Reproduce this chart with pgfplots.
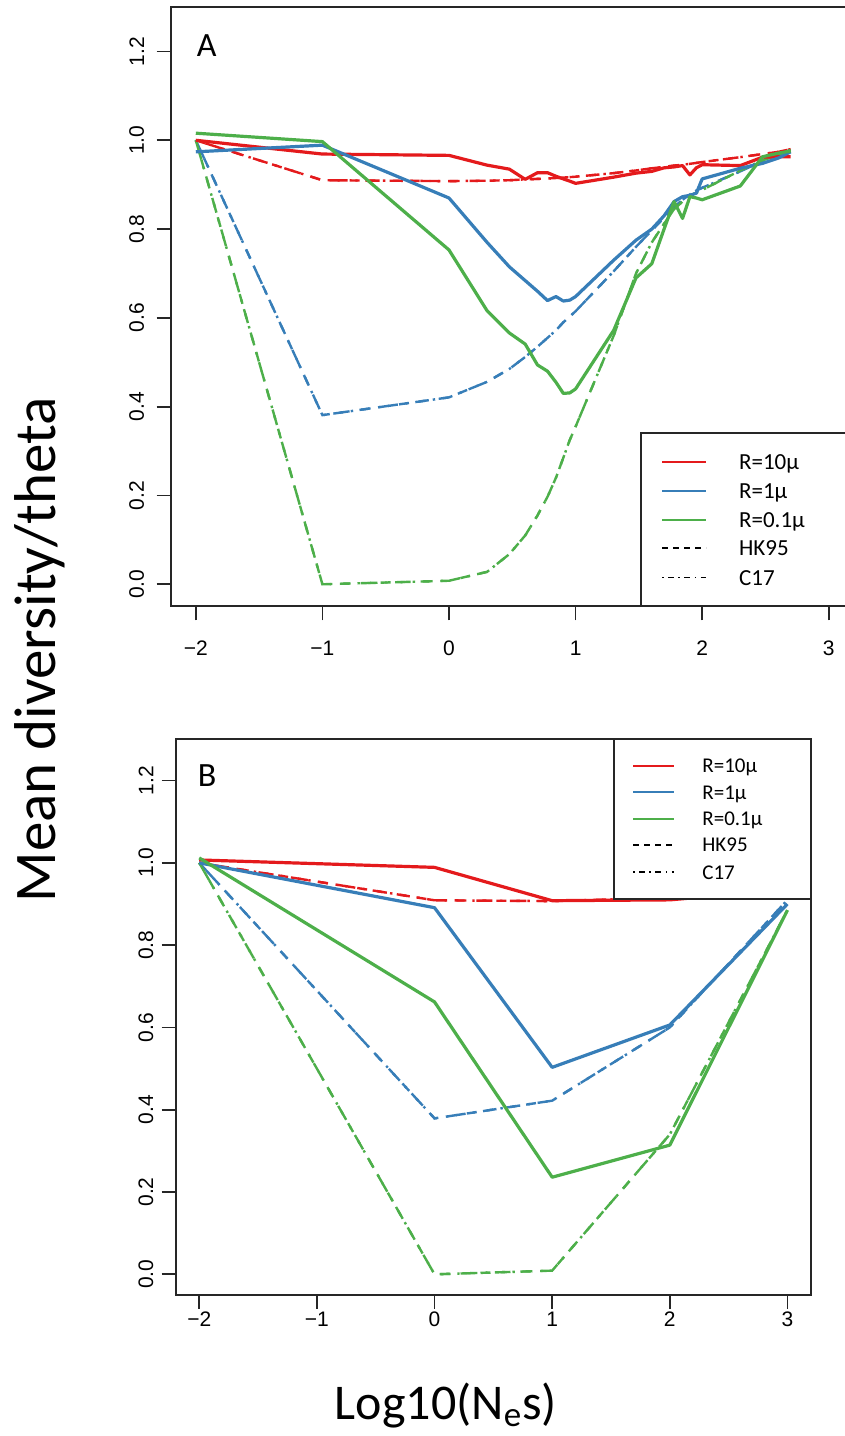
\documentclass[border=0pt]{standalone}
\usepackage{pgfplots}
\usepackage{pgfplotstable}
\pgfplotsset{compat=1.18}
\usepackage{fontspec}
\setmainfont{Carlito}
\newfontfamily\arialf{Liberation Sans}
\definecolor{setred}{HTML}{E41A1C}
\definecolor{setblue}{HTML}{377EB8}
\definecolor{setgreen}{HTML}{4DAF4A}
\definecolor{axgray}{HTML}{262626}

% Panel A: columns x, R=10mu sim, theory; R=1mu sim, theory; R=0.1mu sim, theory
\pgfplotstableread{
x      rs     rt     bs     bt     gs     gt
-2     1.000  1.000  0.974  1.000  1.016  1.000
-1     0.969  0.910  0.989  0.381  0.997  0.000
0      0.966  0.908  0.870  0.421  0.753  0.008
0.301  0.944  0.909  0.770  0.456  0.616  0.028
0.477  0.935  0.910  0.715  0.485  0.566  0.068
0.602  0.912  0.912  0.684  0.512  0.541  0.110
0.699  0.927  0.913  0.660  0.535  0.494  0.155
0.778  0.927  0.914  0.639  0.555  0.480  0.197
0.845  0.919  0.915  0.648  0.572  0.455  0.240
0.903  0.913  0.916  0.638  0.590  0.430  0.285
0.954  0.908  0.917  0.640  0.603  0.431  0.325
1      0.903  0.918  0.648  0.615  0.440  0.355
1.301  0.917  0.926  0.730  0.705  0.572  0.560
1.477  0.926  0.932  0.775  0.760  0.690  0.700
1.602  0.930  0.937  0.800  0.797  0.722  0.770
1.699  0.938  0.940  0.830  0.826  0.800  0.812
1.778  0.940  0.943  0.862  0.850  0.862  0.845
1.845  0.943  0.945  0.873  0.866  0.824  0.862
1.903  0.922  0.947  0.876  0.878  0.873  0.875
1.954  0.938  0.949  0.881  0.887  0.870  0.882
2      0.945  0.951  0.913  0.893  0.866  0.888
2.301  0.943  0.962  0.937  0.930  0.897  0.932
2.477  0.962  0.969  0.948  0.953  0.963  0.955
2.602  0.963  0.974  0.960  0.966  0.971  0.967
2.699  0.963  0.980  0.974  0.978  0.976  0.978
}\dataA

% Panel B
\pgfplotstableread{
x   rs     rt     bs     bt     gs     gt
-2  1.007  1.000  1.000  1.000  1.012  1.000
0   0.989  0.909  0.891  0.379  0.662  0.000
1   0.908  0.907  0.503  0.422  0.236  0.009
2   0.910  0.915  0.606  0.600  0.314  0.340
3   0.935  0.930  0.900  0.910  0.885  0.885
}\dataB

\pgfplotsset{
  panel/.style={
    scale only axis, xmin=-2.2, xmax=3.2, ymin=-0.05, ymax=1.3,
    axis line style={axgray, line width=1pt},
    tick pos=left, tick align=outside, major tick length=7pt,
    tick style={axgray, line width=0.9pt},
    xtick={-2,-1,0,1,2,3}, xticklabels={−2,−1,0,1,2,3},
    ytick={0,0.2,0.4,0.6,0.8,1.0,1.2}, yticklabels={0.0,0.2,0.4,0.6,0.8,1.0,1.2},
    ticklabel style={font=\arialf\fontsize{10.5}{12}\selectfont, inner sep=0pt},
  },
  sol/.style={line width=1.6pt, line join=round},
  hk/.style={line width=1.2pt, dash pattern=on 5pt off 5pt},
  cc/.style={line width=1.2pt, dash pattern=on 1.2pt off 3.8pt on 5pt off 3.8pt},
}

\begin{document}
\begin{tikzpicture}
\path[use as bounding box] (0,0) rectangle (422.5pt,718pt);
\clip (0,0) rectangle (422.5pt,718pt);

\begin{axis}[panel, at={(85.25pt,414.75pt)}, anchor=south west, width=341.8pt, height=299.7pt,
    xticklabel style={anchor=north, yshift=-10pt},
    yticklabel style={xshift=-6pt, rotate=90, anchor=south}]
  \addplot[setred, hk] table[x=x, y=rt] {\dataA};
  \addplot[setred, cc] table[x=x, y=rt] {\dataA};
  \addplot[setblue, hk] table[x=x, y=bt] {\dataA};
  \addplot[setblue, cc] table[x=x, y=bt] {\dataA};
  \addplot[setgreen, hk] table[x=x, y=gt] {\dataA};
  \addplot[setgreen, cc] table[x=x, y=gt] {\dataA};
  \addplot[setred, sol] table[x=x, y=rs] {\dataA};
  \addplot[setblue, sol] table[x=x, y=bs] {\dataA};
  \addplot[setgreen, sol] table[x=x, y=gs] {\dataA};
\end{axis}

\begin{axis}[panel, at={(87.85pt,70.55pt)}, anchor=south west, width=317.65pt, height=277.75pt,
    xticklabel style={anchor=north, yshift=-1.5pt},
    yticklabel style={xshift=-4pt, rotate=90, anchor=south}]
  \addplot[setred, hk] table[x=x, y=rt] {\dataB};
  \addplot[setred, cc] table[x=x, y=rt] {\dataB};
  \addplot[setblue, hk] table[x=x, y=bt] {\dataB};
  \addplot[setblue, cc] table[x=x, y=bt] {\dataB};
  \addplot[setgreen, hk] table[x=x, y=gt] {\dataB};
  \addplot[setgreen, cc] table[x=x, y=gt] {\dataB};
  \addplot[setred, sol] table[x=x, y=rs] {\dataB};
  \addplot[setblue, sol] table[x=x, y=bs] {\dataB};
  \addplot[setgreen, sol] table[x=x, y=gs] {\dataB};
\end{axis}

\begin{scope}[shift={(0pt,718pt)}, x=0.5pt, y=-0.5pt]
  % legend A
  \draw[axgray, line width=1pt, fill=white] (641,433) rectangle (900,606.5);
  \draw[color=setred, line width=0.9pt] (662,461.7) -- (706,461.7);
  \draw[color=setblue, line width=0.9pt] (662,491) -- (706,491);
  \draw[color=setgreen, line width=0.9pt] (662,520) -- (706,520);
  \draw[black, line width=0.8pt, dash pattern=on 3pt off 2.5pt] (662,548.3) -- (706,548.3);
  \draw[black, line width=0.8pt, dash pattern=on 0.8pt off 2.2pt on 3pt off 2.2pt] (662,577.7) -- (706,577.7);
  \begin{scope}[every node/.style={anchor=base west, inner sep=0pt, font=\fontsize{11.5}{13}\selectfont}]
    \node at (738.7,469.1) {R=10μ};
    \node at (738.7,498.4) {R=1μ};
    \node at (738.7,527.4) {R=0.1μ};
    \node at (738.7,555.7) {HK95};
    \node at (738.7,585.1) {C17};
  \end{scope}
  % legend B
  \draw[axgray, line width=1pt, fill=white] (613.6,739.4) rectangle (811,899.3);
  \draw[color=setred, line width=0.9pt] (633,765.7) -- (674,765.7);
  \draw[color=setblue, line width=0.9pt] (633,792.3) -- (674,792.3);
  \draw[color=setgreen, line width=0.9pt] (633,819) -- (674,819);
  \draw[black, line width=0.8pt, dash pattern=on 3pt off 2.5pt] (633,845) -- (674,845);
  \draw[black, line width=0.8pt, dash pattern=on 0.8pt off 2.2pt on 3pt off 2.2pt] (633,872.3) -- (674,872.3);
  \begin{scope}[every node/.style={anchor=base west, inner sep=0pt, font=\fontsize{10.5}{12}\selectfont}]
    \node at (702,772.5) {R=10μ};
    \node at (702,799.1) {R=1μ};
    \node at (702,825.8) {R=0.1μ};
    \node at (702,851.8) {HK95};
    \node at (702,879.1) {C17};
  \end{scope}
  % panel letters
  \node[anchor=base west, inner sep=0pt, font=\fontsize{17}{20}\selectfont] at (196.5,56.7) {A};
  \node[anchor=base west, inner sep=0pt, font=\fontsize{17}{20}\selectfont] at (197.4,786.7) {B};
  % axis titles
  \node[rotate=90, anchor=base, inner sep=0pt, font=\fontsize{29.5}{32}\selectfont] at (55,650) {Mean diversity/theta};
  \node[anchor=base, inner sep=0pt, font=\fontsize{25}{28}\selectfont] at (446,1419) {Log10(N\textsubscript{e}s)};
\end{scope}
\end{tikzpicture}
\end{document}
